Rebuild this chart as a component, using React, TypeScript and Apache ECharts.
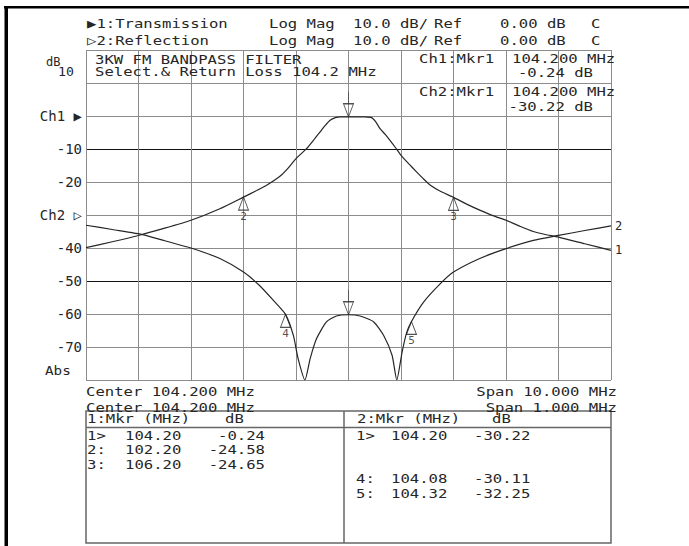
import React, { useEffect, useRef } from 'react';
import * as echarts from 'echarts';

const FONT = '"DejaVu Sans Mono", monospace';
const INK = '#262626';
const GRID_GRAY = '#8c8c8c';

// Trace 1: Transmission (Ch1) — Center 104.200 MHz, Span 10.000 MHz
const ch1Freq = [99.2, 99.7, 100.2, 100.7, 101.2, 101.75, 102.2, 102.45, 102.64, 102.9, 103.05, 103.2, 103.4, 103.55, 103.66, 103.75, 103.85, 103.95, 104.05, 104.2, 104.35, 104.5, 104.64, 104.72, 104.8, 104.9, 104.99, 105.1, 105.2, 105.35, 105.5, 105.63, 105.76, 105.95, 106.2, 106.45, 106.71, 106.95, 107.2, 107.45, 107.72, 107.95, 108.2, 108.7, 109.2];
const ch1Db = [-39.9, -38.1, -36.2, -34.0, -31.6, -28.1, -24.58, -22.6, -21.0, -18.2, -15.8, -12.9, -9.9, -7.0, -4.8, -3.0, -1.3, -0.5, -0.25, -0.24, -0.24, -0.26, -0.5, -1.8, -3.8, -5.6, -7.4, -9.7, -11.9, -14.5, -17.0, -19.1, -21.0, -22.8, -24.65, -26.7, -28.6, -30.2, -31.6, -33.3, -35.0, -35.9, -36.7, -38.7, -40.7];

// Trace 2: Reflection (Ch2) — Center 104.200 MHz, Span 1.000 MHz
const ch2Freq = [103.7, 103.75, 103.81, 103.85, 103.9, 103.955, 104.0, 104.03, 104.057, 104.08, 104.095, 104.104, 104.117, 104.127, 104.139, 104.158, 104.177, 104.2, 104.222, 104.248, 104.267, 104.283, 104.292, 104.302, 104.311, 104.32, 104.343, 104.375, 104.4, 104.45, 104.5, 104.552, 104.6, 104.65, 104.7];
const ch2Db = [-3.1, -4.4, -6.0, -7.8, -10.0, -13.2, -17.3, -21.3, -25.9, -30.11, -36.5, -43.5, -50, -43.5, -37.5, -32.4, -30.6, -30.22, -30.6, -32.4, -36.5, -42.5, -50, -41.6, -35.5, -32.25, -26.4, -20.8, -17.3, -13.2, -10.2, -7.7, -6.2, -4.7, -3.3];

// Markers
const ch1MkrIds = ['1', '2', '3'];
const ch1MkrFreq = [104.2, 102.2, 106.2];
const ch1MkrDb = [-0.24, -24.58, -24.65];
const ch2MkrIds = ['1', '4', '5'];
const ch2MkrFreq = [104.2, 104.08, 104.32];
const ch2MkrDb = [-30.22, -30.11, -32.25];

// Axis scales
const ch1Center = 104.2;
const ch1Span = 10;
const ch2Span = 1;
const ch2RefOffset = -30; // Ch2 reference line sits at the -30 dB division of Ch1
const yMin = -80;
const yMax = 20;
const yStep = 10;
const yTickValues = [0, -10, -20, -30, -40, -50, -60, -70];
const yTickTexts = ['Ch1 \u25B6', '-10', '-20', 'Ch2 \u25B7', '-40', '-50', '-60', '-70'];
const darkGridValues = [-10, -50];

const UP_TRI = 'path://M5 0L10 13L0 13Z';
const DOWN_TRI = 'path://M5 0L5 12M0 12L10 12L5 25Z';

function T(x: number, y: number, text: string, align: string = 'left', size = 13, sx = 1.2) {
  return {
    type: 'text',
    x,
    y,
    scaleX: sx,
    z: 100,
    style: {
      text,
      fill: INK,
      fontFamily: FONT,
      fontSize: size,
      align,
      verticalAlign: 'middle',
    },
  };
}

const markerLabel = {
  position: 'bottom',
  distance: 0,
  color: INK,
  fontFamily: FONT,
  fontSize: 11,
};

function markerData(ids: string[], freqs: number[], dbs: number[]) {
  return ids.map((id, i) => {
    const active = id === '1';
    return {
      value: [freqs[i], dbs[i]],
      name: id,
      symbol: active ? DOWN_TRI : UP_TRI,
      symbolSize: active ? [10, 25] : [10, 13],
      symbolOffset: active ? [0, -12.5] : [0, 6.5],
      label: { ...markerLabel, show: !active, formatter: id },
    };
  });
}

export default function App() {
  const ref = useRef<HTMLDivElement>(null);

  useEffect(() => {
    if (!ref.current) return;
    const chart = echarts.init(ref.current, undefined, { renderer: 'svg' });

    const splitColors: string[] = [];
    for (let v = yMin; v <= yMax; v += yStep) {
      splitColors.push(darkGridValues.includes(v) ? '#111' : GRID_GRAY);
    }

    const graphics: any[] = [];
    // outer frame
    graphics.push({ type: 'rect', shape: { x: 4, y: 6, width: 685, height: 2.5 }, style: { fill: '#000' }, z: 100 });
    graphics.push({ type: 'rect', shape: { x: 4.5, y: 6, width: 3.5, height: 540 }, style: { fill: '#000' }, z: 100 });

    // header lines
    graphics.push(T(87, 23, '\u25B61:Transmission'));
    graphics.push(T(87, 40, '\u25B72:Reflection'));
    [23, 40].forEach((y) => {
      graphics.push(T(269, y, 'Log Mag'));
      graphics.push(T(353, y, '10.0 dB/'));
      graphics.push(T(434, y, 'Ref'));
      graphics.push(T(500, y, '0.00 dB'));
      graphics.push(T(591, y, 'C'));
    });

    // title inside grid
    graphics.push(T(95, 60, '3KW FM BANDPASS FILTER', 'left', 12, 1.3));
    graphics.push(T(95, 71.5, 'Select.& Return Loss 104.2 MHz', 'left', 12, 1.3));

    // marker readouts
    graphics.push(T(419, 58, 'Ch1:Mkr1'));
    graphics.push(T(512, 58, ch1MkrFreq[0].toFixed(3) + ' MHz'));
    graphics.push(T(593, 72, ch1MkrDb[0].toFixed(2) + ' dB', 'right'));
    graphics.push(T(419, 91, 'Ch2:Mkr1'));
    graphics.push(T(512, 91, ch2MkrFreq[0].toFixed(3) + ' MHz'));
    graphics.push(T(593, 106, ch2MkrDb[0].toFixed(2) + ' dB', 'right'));

    // left axis extras
    graphics.push(T(46, 62, 'dB', 'left', 12, 1));
    graphics.push(T(58, 72, '10', 'left', 12, 1.1));
    graphics.push(T(45, 370, 'Abs', 'left', 13, 1.1));

    // bottom settings
    graphics.push(T(86, 391, 'Center ' + ch1Center.toFixed(3) + ' MHz'));
    graphics.push(T(86, 407, 'Center ' + ch1Center.toFixed(3) + ' MHz'));
    graphics.push(T(617, 391, 'Span ' + ch1Span.toFixed(3) + ' MHz', 'right'));
    graphics.push(T(617, 407, 'Span ' + ch2Span.toFixed(3) + ' MHz', 'right'));

    // marker table
    graphics.push({ type: 'rect', shape: { x: 86, y: 411, width: 525, height: 132 }, style: { fill: 'none', stroke: '#666', lineWidth: 1.5 }, z: 90 });
    graphics.push({ type: 'line', shape: { x1: 86, y1: 427.5, x2: 611, y2: 427.5 }, style: { stroke: '#666', lineWidth: 1.5 }, z: 90 });
    graphics.push({ type: 'line', shape: { x1: 344, y1: 411, x2: 344, y2: 543 }, style: { stroke: '#666', lineWidth: 1.5 }, z: 90 });
    graphics.push(T(87, 418.5, '1:Mkr (MHz)'));
    graphics.push(T(225, 418.5, 'dB'));
    graphics.push(T(357, 418.5, '2:Mkr (MHz)'));
    graphics.push(T(492, 418.5, 'dB'));
    const rowY = (id: string) => 435.5 + (parseInt(id, 10) - 1) * 14.4;
    ch1MkrIds.forEach((id, i) => {
      const y = rowY(id);
      graphics.push(T(87, y, id + (i === 0 ? '>' : ':')));
      graphics.push(T(125, y, ch1MkrFreq[i].toFixed(2)));
      graphics.push(T(265, y, ch1MkrDb[i].toFixed(2), 'right'));
    });
    ch2MkrIds.forEach((id, i) => {
      const y = rowY(id);
      graphics.push(T(356, y, id + (i === 0 ? '>' : ':')));
      graphics.push(T(391, y, ch2MkrFreq[i].toFixed(2)));
      graphics.push(T(474, y, ch2MkrDb[i].toFixed(2)));
    });

    const labelFmt = (v: number) => {
      const idx = yTickValues.indexOf(v);
      return idx >= 0 ? yTickTexts[idx] : '';
    };

    chart.setOption({
      animation: false,
      backgroundColor: '#fff',
      grid: { left: 86, right: 78, top: 50, bottom: 166, containLabel: false },
      xAxis: [
        {
          type: 'value',
          min: ch1Center - ch1Span / 2,
          max: ch1Center + ch1Span / 2,
          show: false,
        },
        {
          type: 'value',
          min: ch1Center - ch2Span / 2,
          max: ch1Center + ch2Span / 2,
          interval: ch2Span / 10,
          axisLine: { show: false },
          axisTick: { show: false },
          axisLabel: { show: false },
          splitLine: { show: true, showMinLine: true, showMaxLine: true, lineStyle: { color: GRID_GRAY, width: 1 } },
        },
      ],
      yAxis: [
        {
          type: 'value',
          min: yMin,
          max: yMax,
          interval: yStep,
          axisLine: { show: false },
          axisTick: { show: false },
          axisLabel: {
            show: true,
            formatter: labelFmt,
            fontFamily: FONT,
            fontSize: 14,
            color: INK,
            margin: 4,
          },
          splitLine: { show: true, showMinLine: true, showMaxLine: true, lineStyle: { color: splitColors, width: 1 } },
        },
        {
          type: 'value',
          min: yMin - ch2RefOffset,
          max: yMax - ch2RefOffset,
          interval: yStep,
          show: false,
          splitLine: { show: false },
        },
      ],
      series: [
        {
          name: 'Transmission',
          type: 'line',
          xAxisIndex: 0,
          yAxisIndex: 0,
          data: ch1Freq.map((f, i) => [f, ch1Db[i]]),
          showSymbol: false,
          smooth: 0.2,
          clip: true,
          lineStyle: { color: INK, width: 1.2 },
          endLabel: { show: true, formatter: '1', color: INK, fontFamily: FONT, fontSize: 12, distance: 4 },
          z: 3,
        },
        {
          name: 'Reflection',
          type: 'line',
          xAxisIndex: 1,
          yAxisIndex: 1,
          data: ch2Freq.map((f, i) => [f, ch2Db[i]]),
          showSymbol: false,
          smooth: 0.2,
          clip: true,
          lineStyle: { color: INK, width: 1.2 },
          endLabel: { show: true, formatter: '2', color: INK, fontFamily: FONT, fontSize: 12, distance: 4 },
          z: 3,
        },
        {
          name: 'Ch1 markers',
          type: 'scatter',
          xAxisIndex: 0,
          yAxisIndex: 0,
          data: markerData(ch1MkrIds, ch1MkrFreq, ch1MkrDb),
          itemStyle: { color: 'rgba(0,0,0,0)', borderColor: INK, borderWidth: 1 },
          label: { ...markerLabel },
          z: 4,
        },
        {
          name: 'Ch2 markers',
          type: 'scatter',
          xAxisIndex: 1,
          yAxisIndex: 1,
          data: markerData(ch2MkrIds, ch2MkrFreq, ch2MkrDb),
          itemStyle: { color: 'rgba(0,0,0,0)', borderColor: INK, borderWidth: 1 },
          label: { ...markerLabel },
          z: 4,
        },
      ],
      graphic: graphics,
    });

    return () => chart.dispose();
  }, []);

  return (
    <div
      ref={ref}
      style={{ position: 'fixed', left: 0, top: 0, width: 689, height: 546, background: '#fff' }}
    />
  );
}
